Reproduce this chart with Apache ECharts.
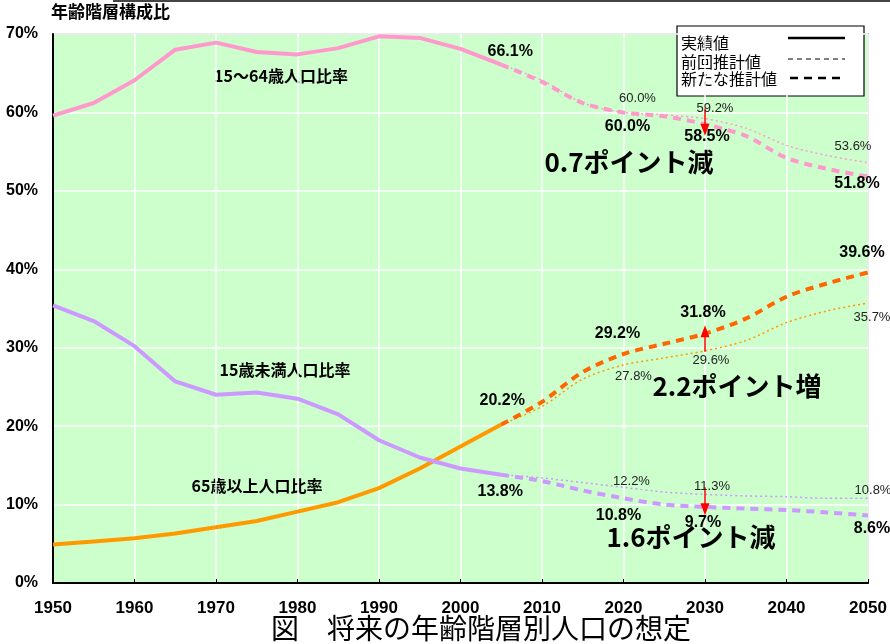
<!DOCTYPE html>
<html><head><meta charset="utf-8">
<script src="https://cdn.jsdelivr.net/npm/echarts@6/dist/echarts.min.js"></script>
<style>html,body{margin:0;padding:0;background:#fff}#c{width:890px;height:644px}</style>
</head><body><div id="c"></div>
<script>
// ---- data ----
const actualYears   = [1950,1955,1960,1965,1970,1975,1980,1985,1990,1995,2000,2005];
const actualUnder15 = [35.4,33.4,30.2,25.7,24.0,24.3,23.5,21.5,18.2,16.0,14.6,13.8];
const actualWorking = [59.6,61.2,64.1,68.0,68.9,67.7,67.4,68.2,69.7,69.5,68.1,66.1];
const actualElderly = [4.9,5.3,5.7,6.3,7.1,7.9,9.1,10.3,12.1,14.6,17.4,20.2];
const projYears     = [2005,2010,2015,2020,2025,2030,2035,2040,2045,2050];
const newUnder15    = [13.8,13.0,11.8,10.8,10.0,9.7,9.5,9.3,9.0,8.6];
const newWorking    = [66.1,63.9,61.2,60.0,59.5,58.5,57.0,54.2,52.8,51.8];
const newElderly    = [20.2,23.1,26.9,29.2,30.5,31.8,33.7,36.5,38.2,39.6];
const prevUnder15   = [13.8,13.4,12.8,12.2,11.6,11.3,11.1,11.0,10.8,10.8];
const prevWorking   = [66.1,64.1,61.2,60.0,59.7,59.2,58.0,55.8,54.5,53.6];
const prevElderly   = [20.2,22.5,26.0,27.8,28.7,29.6,30.9,33.2,34.7,35.7];
const xTickLabels   = [1950,1960,1970,1980,1990,2000,2010,2020,2030,2040,2050];
const yTickLabels   = ['0%','10%','20%','30%','40%','50%','60%','70%'];
const arrowYear = 2030;
const arrowWorking = [60.5, 57.8];
const arrowElderly = [29.5, 32.1];
const arrowUnder15 = [12.2, 9.4];

// ---- layout (label offsets, not data) ----
const labelLayout = {
  actWorking: {2005:[9,-13]},
  actElderly: {2005:[1,-24]},
  actUnder15: {2005:[-1,17]},
  newWorking: {2020:[4,14],2030:[2,12],2050:[-11,7]},
  prevWorking:{2020:[14,-14],2030:[10,-10],2050:[-15,-16]},
  newElderly: {2020:[-6,-20],2030:[-2,-21],2050:[-6,-20]},
  prevElderly:{2020:[10,11],2030:[6,10],2050:[4,14]},
  newUnder15: {2020:[-5,17],2030:[-2,16],2050:[4,13]},
  prevUnder15:{2020:[8,-6],2030:[7,-8],2050:[5,-8]}
};

const zip = (xs, ys) => xs.map((x,i)=>[x, ys[i]]);
const boldFont = {fontFamily:'"Liberation Sans", Arial, sans-serif', fontWeight:'bold', fontSize:16, color:'#000'};
const thinFont = {fontFamily:'"Liberation Sans", Arial, sans-serif', fontWeight:'normal', fontSize:13, color:'#222'};

function marks(xs, ys, layout, bold) {
  return {
    symbol:'circle', symbolSize:1, silent:true,
    itemStyle:{color:'rgba(0,0,0,0)'},
    data: Object.keys(layout).map(k=>{
      const yr = +k; const v = ys[xs.indexOf(yr)];
      return {coord:[yr, v], value:v,
        label:Object.assign({show:true, position:'inside', offset:layout[k],
          formatter: v.toFixed(1)+'%'}, bold?boldFont:thinFont)};
    })
  };
}
function arrow(range) {
  return {
    silent:true, symbol:['none','triangle'], symbolSize:[9,12],
    lineStyle:{color:'#FF0000', width:1.5, type:'solid'},
    label:{show:false},
    data:[[{coord:[arrowYear, range[0]]},{coord:[arrowYear, range[1]]}]]
  };
}

const PINK='#FF99CC', PURPLE='#CC99FF', ORANGE='#FF9900', DARKORANGE='#FF6600';

function actual(name, ys, color, key) {
  return {type:'line', name, data:zip(actualYears, ys), showSymbol:false, smooth:false,
    lineStyle:{color, width:4}, z:3, markPoint:marks(actualYears, ys, labelLayout[key], true)};
}
function newer(name, ys, color, key, arr) {
  const s = {type:'line', name, data:zip(projYears, ys), showSymbol:false, smooth:0.3,
    lineStyle:{color, width:4, type:[8,6]}, z:3, markPoint:marks(projYears, ys, labelLayout[key], true)};
  if (arr) s.markLine = arrow(arr);
  return s;
}
function prev(name, ys, color, key) {
  return {type:'line', name, data:zip(projYears, ys), showSymbol:false, smooth:0.3,
    lineStyle:{color, width:1.5, type:[2,3]}, z:2, markPoint:marks(projYears, ys, labelLayout[key], false)};
}

const cjkBold = '"Noto Sans CJK JP", sans-serif';
const chart = echarts.init(document.getElementById('c'), null, {renderer:'canvas'});
chart.setOption({
  animation:false,
  backgroundColor:'#fff',
  grid:{left:53, right:22, top:34, bottom:61, show:true, backgroundColor:'#CCFFCC', borderColor:'#999', borderWidth:1.5},
  xAxis:{type:'value', min:1950, max:2050, interval:10,
    axisLine:{show:true, lineStyle:{color:'#000', width:2}},
    axisTick:{show:true, inside:true, length:4, lineStyle:{color:'#000'}},
    splitLine:{show:true, lineStyle:{color:'#fff', width:1.5}},
    axisLabel:{margin:17, fontFamily:'"Liberation Sans", Arial, sans-serif', fontWeight:'bold', fontSize:17, color:'#000',
      formatter:v=> xTickLabels.includes(v) ? String(v) : ''}},
  yAxis:{type:'value', min:0, max:70, interval:10,
    name:'年齢階層構成比', nameLocation:'end', nameGap:14,
    nameTextStyle:{align:'left', padding:[0,0,0,-2], fontFamily:cjkBold, fontWeight:'bold', fontSize:17, color:'#000'},
    axisLine:{show:true, lineStyle:{color:'#000', width:2}},
    axisTick:{show:false},
    splitLine:{show:true, lineStyle:{color:'#fff', width:1.5}},
    axisLabel:{margin:15, fontFamily:'"Liberation Sans", Arial, sans-serif', fontWeight:'bold', fontSize:16, color:'#000',
      formatter:v=> yTickLabels[Math.round(v/10)]}},
  series:[
    prev('前回推計値 15～64歳', prevWorking, PINK, 'prevWorking'),
    prev('前回推計値 65歳以上', prevElderly, ORANGE, 'prevElderly'),
    prev('前回推計値 15歳未満', prevUnder15, PURPLE, 'prevUnder15'),
    newer('新たな推計値 15～64歳', newWorking, PINK, 'newWorking', arrowWorking),
    newer('新たな推計値 65歳以上', newElderly, DARKORANGE, 'newElderly', arrowElderly),
    newer('新たな推計値 15歳未満', newUnder15, PURPLE, 'newUnder15', arrowUnder15),
    actual('実績値 15～64歳', actualWorking, PINK, 'actWorking'),
    actual('実績値 65歳以上', actualElderly, ORANGE, 'actElderly'),
    actual('実績値 15歳未満', actualUnder15, PURPLE, 'actUnder15')
  ],
  graphic:[
    {type:'line', shape:{x1:113,y1:1,x2:890,y2:1}, style:{stroke:'#444', lineWidth:2}},
    // series annotations
    {type:'text', x:281, y:76, style:{text:'15～64歳人口比率', font:'bold 16px '+cjkBold, fill:'#000', textAlign:'center', textVerticalAlign:'middle'}},
    {type:'text', x:285, y:370, style:{text:'15歳未満人口比率', font:'bold 16px '+cjkBold, fill:'#000', textAlign:'center', textVerticalAlign:'middle'}},
    {type:'text', x:257, y:486, style:{text:'65歳以上人口比率', font:'bold 16px '+cjkBold, fill:'#000', textAlign:'center', textVerticalAlign:'middle'}},
    {type:'text', x:629, y:162, z:10, style:{text:'0.7ポイント減', font:'bold 26px '+cjkBold, fill:'#000', textAlign:'center', textVerticalAlign:'middle'}},
    {type:'text', x:737, y:386, z:10, style:{text:'2.2ポイント増', font:'bold 26px '+cjkBold, fill:'#000', textAlign:'center', textVerticalAlign:'middle'}},
    {type:'text', x:691, y:537, z:10, style:{text:'1.6ポイント減', font:'bold 26px '+cjkBold, fill:'#000', textAlign:'center', textVerticalAlign:'middle'}},
    // legend box
    {type:'group', x:677, y:26, z:20, children:[
      {type:'rect', shape:{x:0,y:0,width:187,height:70}, style:{fill:'#fff', stroke:'#000', lineWidth:1.2}},
      {type:'text', x:4, y:17, style:{text:'実績値', font:'16px '+cjkBold, fill:'#000', textVerticalAlign:'middle'}},
      {type:'text', x:4, y:36, style:{text:'前回推計値', font:'16px '+cjkBold, fill:'#000', textVerticalAlign:'middle'}},
      {type:'text', x:4, y:53, style:{text:'新たな推計値', font:'16px '+cjkBold, fill:'#000', textVerticalAlign:'middle'}},
      {type:'line', shape:{x1:111,y1:12,x2:168,y2:12}, style:{stroke:'#000', lineWidth:2.5}},
      {type:'line', shape:{x1:111,y1:33,x2:168,y2:33}, style:{stroke:'#000', lineWidth:1, lineDash:[5,4]}},
      {type:'line', shape:{x1:113,y1:52,x2:168,y2:52}, style:{stroke:'#000', lineWidth:2.5, lineDash:[8,6]}}
    ]},
    // figure title
    {type:'text', x:481, y:628, z:20, style:{text:'図　将来の年齢階層別人口の想定', font:'28px '+cjkBold, fill:'#000', textAlign:'center', textVerticalAlign:'middle'}}
  ]
});
</script></body></html>
